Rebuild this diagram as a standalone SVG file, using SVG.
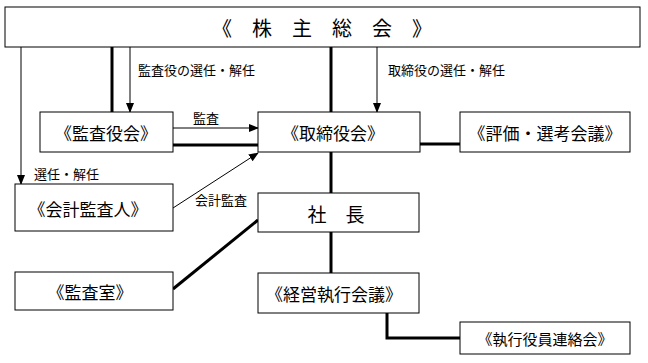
<svg xmlns="http://www.w3.org/2000/svg" width="648" height="363" viewBox="0 0 648 363">
<style>
.box{fill:#fff;stroke:#000;stroke-width:1}
.t{font-family:"Noto Sans CJK JP","Noto Sans CJK SC",sans-serif;fill:#000;text-anchor:middle;dominant-baseline:central}
.lb{font-size:17px}
.sm{font-family:"Noto Sans CJK JP","Noto Sans CJK SC",sans-serif;font-size:13px;fill:#000}
.thin{stroke:#000;stroke-width:1;fill:none}
.thick{stroke:#000;stroke-width:3;fill:none}
</style>
<defs>
<marker id="ah" markerWidth="10" markerHeight="8" refX="9" refY="4" orient="auto" markerUnits="userSpaceOnUse">
<path d="M0,0 L10,4 L0,8 Z" fill="#000"/>
</marker>
</defs>
<rect width="648" height="363" fill="#fff"/>
<g id="connectors">
<line class="thin" x1="21" y1="47" x2="21" y2="184" marker-end="url(#ah)"/>
<line class="thick" x1="112" y1="47" x2="112" y2="112"/>
<line class="thin" x1="130" y1="47" x2="130" y2="112" marker-end="url(#ah)"/>
<line class="thick" x1="331" y1="47" x2="331" y2="112"/>
<line class="thin" x1="377" y1="47" x2="377" y2="112" marker-end="url(#ah)"/>
<line class="thin" x1="173" y1="128" x2="258" y2="128" marker-end="url(#ah)"/>
<line class="thick" x1="173" y1="145" x2="258" y2="145"/>
<line class="thick" x1="420" y1="144" x2="460" y2="144"/>
<line class="thin" x1="173" y1="208" x2="258" y2="153" marker-end="url(#ah)"/>
<line class="thick" x1="331" y1="152" x2="331" y2="193"/>
<line class="thick" x1="173" y1="289" x2="258" y2="220"/>
<line class="thick" x1="331" y1="232" x2="331" y2="273"/>
<polyline class="thick" points="387,313 387,338 460,338"/>
<text class="sm" x="138" y="75">監査役の選任・解任</text>
<text class="sm" x="388" y="75">取締役の選任・解任</text>
<text class="sm" x="193" y="123">監査</text>
<text class="sm" x="34" y="179">選任・解任</text>
<text class="sm" x="195" y="205">会計監査</text>
</g>
<g id="shareholders">
<rect class="box" x="5" y="7" width="635" height="40"/>
<text class="t" x="322" y="27" font-size="20">《　株　主　総　会　》</text>
</g>
<g id="audit-board">
<rect class="box" x="40" y="112" width="133" height="40"/>
<text class="t lb" x="106" y="132">《監査役会》</text>
</g>
<g id="board">
<rect class="box" x="258" y="112" width="162" height="40"/>
<text class="t lb" x="333" y="132">《取締役会》</text>
</g>
<g id="evaluation">
<rect class="box" x="460" y="112" width="170" height="40"/>
<text class="t lb" x="545" y="132">《評価・選考会議》</text>
</g>
<g id="accounting-auditor">
<rect class="box" x="15" y="184" width="158" height="47"/>
<text class="t lb" x="88" y="208">《会計監査人》</text>
</g>
<g id="president">
<rect class="box" x="258" y="193" width="161" height="39"/>
<text class="t" x="336" y="213" font-size="19">社　長</text>
</g>
<g id="audit-office">
<rect class="box" x="15" y="272" width="158" height="38"/>
<text class="t lb" x="90" y="291">《監査室》</text>
</g>
<g id="executive-meeting">
<rect class="box" x="258" y="273" width="161" height="40"/>
<text class="t lb" x="334" y="293">《経営執行会議》</text>
</g>
<g id="officers-liaison">
<rect class="box" x="460" y="322" width="170" height="32"/>
<text class="t" x="545" y="338" font-size="15">《執行役員連絡会》</text>
</g>
</svg>
